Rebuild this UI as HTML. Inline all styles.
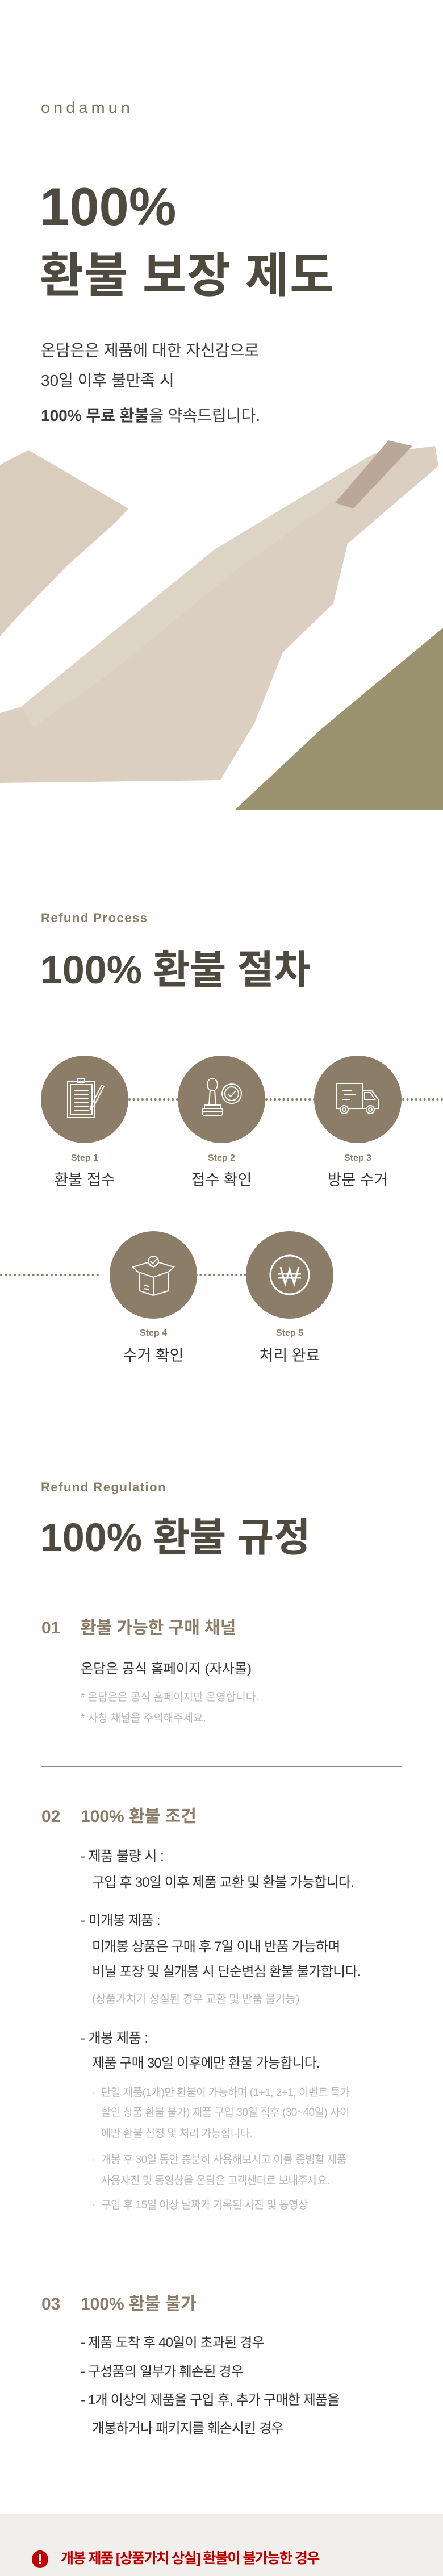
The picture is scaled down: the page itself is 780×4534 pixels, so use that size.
<!DOCTYPE html>
<html><head><meta charset="utf-8"><style>
*{margin:0;padding:0;box-sizing:border-box}
body{width:780px;height:4534px;position:relative;background:#fff;font-family:"Liberation Sans","Noto Sans CJK KR",sans-serif;overflow:hidden}
.t{position:absolute;white-space:nowrap;line-height:1}
.kr{font-family:"Liberation Sans","Noto Sans CJK KR",sans-serif}
.acc{color:#8b7d67}
.dk{color:#4d4a40}
.body{color:#333}
.gr{color:#b8b8b8}
.circ{position:absolute;width:154px;height:154px;border-radius:50%;background:#8b7d67}
.circ svg{position:absolute;left:37px;top:37px}
.dot{position:absolute;height:0;border-top:4px dotted #8b7d67}
.hr{position:absolute;left:72px;width:636px;height:1px;background:#8a8a8a}
.steplbl{position:absolute;width:200px;text-align:center;font-size:16px;font-weight:bold;color:#8b7d67;line-height:1}
.stepkr{position:absolute;width:200px;text-align:center;font-size:27px;color:#333;line-height:1}
</style></head><body>

<div class="t acc" style="left:72px;top:176px;font-size:29px;letter-spacing:6px;color:#7e735f">ondamun</div>
<div class="t dk" style="left:70px;top:317px;font-size:94px;font-weight:bold">100%</div>
<div class="t dk" style="left:70px;top:443px;font-size:84px;font-weight:bold;letter-spacing:1px">환불 보장 제도</div>
<div class="t body" style="left:72px;top:603px;font-size:28px;color:#3a3a3a">온담은은 제품에 대한 자신감으로</div>
<div class="t body" style="left:72px;top:656px;font-size:28px;color:#3a3a3a">30일 이후 불만족 시</div>
<div class="t body" style="left:72px;top:718px;font-size:28px;color:#3a3a3a"><b>100% 무료 환불</b>을 약속드립니다.</div>

<svg style="position:absolute;left:0;top:760px" width="780" height="680" viewBox="0 760 780 680">
<polygon points="0,818 50,792 226,895 204,919 119,995 35,1081 0,1120" fill="#d9cdbd"/>
<polygon points="0,1255 37,1244 378,967 657,799 766,785 772,820 612,957 587,1062 498,1148 448,1273 388,1373 0,1378" fill="#dacfc0"/>
<polygon points="37,1244 378,967 657,799 660,830 420,1000 200,1180 60,1280" fill="#e0d6c8" opacity="0.7"/>
<polygon points="590,885 684,775 726,785 622,895" fill="#b9a898"/>
<polygon points="413,1426 567,1282 780,1105 780,1426" fill="#9b9270"/>
</svg>

<div class="t acc" style="left:72px;top:1605px;font-size:22px;font-weight:bold;letter-spacing:1.5px">Refund Process</div>
<div class="t dk" style="left:71px;top:1672px;font-size:70px;font-weight:bold">100% 환불 절차</div>

<div class="dot" style="left:226px;width:88px;top:1933px"></div>
<div class="dot" style="left:467px;width:88px;top:1933px"></div>
<div class="dot" style="left:708px;width:72px;top:1933px"></div>
<div class="dot" style="left:0;width:174px;top:2242px"></div>
<div class="dot" style="left:328px;width:106px;top:2242px"></div>

<div class="circ" style="left:72px;top:1858px"><svg width="80" height="80" viewBox="0 0 80 80" fill="none" stroke="#fff" stroke-width="2"><rect x="10" y="8" width="48" height="64"/><rect x="15" y="14" width="38" height="53"/><rect x="28" y="3" width="12" height="8"/><line x1="21" y1="24" x2="47" y2="24"/><line x1="21" y1="31" x2="47" y2="31"/><line x1="21" y1="38" x2="47" y2="38"/><line x1="21" y1="45" x2="47" y2="45"/><line x1="21" y1="52" x2="47" y2="52"/><line x1="21" y1="59" x2="47" y2="59"/><path d="M70 15 L52 50 L50 58 L56 52 L74 17 Z"/></svg></div>
<div class="circ" style="left:313px;top:1858px"><svg width="80" height="80" viewBox="0 0 80 80" fill="none" stroke="#fff" stroke-width="2"><ellipse cx="24" cy="14" rx="9" ry="11"/><path d="M20 24 L18 50 M28 24 L30 50"/><rect x="10" y="50" width="28" height="6"/><rect x="6" y="56" width="36" height="12" rx="3"/><line x1="6" y1="62" x2="42" y2="62"/><circle cx="58" cy="30" r="17"/><circle cx="58" cy="30" r="12"/><path d="M51 30 L56 35 L65 25"/></svg></div>
<div class="circ" style="left:553px;top:1858px"><svg width="80" height="80" viewBox="0 0 80 80" fill="none" stroke="#fff" stroke-width="2"><rect x="2" y="12" width="46" height="44"/><path d="M48 24 H64 L76 40 V56 H48"/><path d="M52 28 H62 L70 40 H52 Z"/><line x1="12" y1="24" x2="30" y2="24"/><line x1="16" y1="32" x2="36" y2="32"/><line x1="12" y1="40" x2="26" y2="40"/><circle cx="16" cy="58" r="7" fill="#8b7d67"/><circle cx="16" cy="58" r="3"/><circle cx="62" cy="58" r="7" fill="#8b7d67"/><circle cx="62" cy="58" r="3"/></svg></div>
<div class="circ" style="left:193px;top:2167px"><svg width="80" height="80" viewBox="0 0 80 80" fill="none" stroke="#fff" stroke-width="2"><circle cx="40" cy="16" r="9"/><path d="M35 16 L39 20 L46 12"/><path d="M12 34 L40 44 L68 34"/><path d="M16 36 V68 L40 76 L66 68 V36"/><line x1="40" y1="44" x2="40" y2="76"/><path d="M12 34 L4 26 L30 18 L40 26 M68 34 L76 26 L50 18 L40 26"/><line x1="24" y1="58" x2="32" y2="60"/><line x1="24" y1="64" x2="32" y2="66"/></svg></div>
<div class="circ" style="left:433px;top:2167px"><svg width="80" height="80" viewBox="0 0 80 80" fill="none" stroke="#fff" stroke-width="3"><circle cx="40" cy="40" r="34"/><path d="M24 26 L32 56 L40 30 L48 56 L56 26"/><line x1="20" y1="38" x2="60" y2="38"/><line x1="20" y1="45" x2="60" y2="45"/></svg></div>

<div class="steplbl" style="left:49px;top:2031px">Step 1</div>
<div class="stepkr" style="left:49px;top:2064px">환불 접수</div>
<div class="steplbl" style="left:290px;top:2031px">Step 2</div>
<div class="stepkr" style="left:290px;top:2064px">접수 확인</div>
<div class="steplbl" style="left:530px;top:2031px">Step 3</div>
<div class="stepkr" style="left:530px;top:2064px">방문 수거</div>
<div class="steplbl" style="left:170px;top:2339px">Step 4</div>
<div class="stepkr" style="left:170px;top:2373px">수거 확인</div>
<div class="steplbl" style="left:410px;top:2339px">Step 5</div>
<div class="stepkr" style="left:410px;top:2373px">처리 완료</div>

<div class="t acc" style="left:72px;top:2607px;font-size:22px;font-weight:bold;letter-spacing:1.5px">Refund Regulation</div>
<div class="t dk" style="left:71px;top:2671px;font-size:70px;font-weight:bold">100% 환불 규정</div>

<div class="t acc" style="left:73px;top:2851px;font-size:30px;font-weight:bold">01</div>
<div class="t acc" style="left:142px;top:2851px;font-size:30px;font-weight:bold">환불 가능한 구매 채널</div>
<div class="t body" style="left:142px;top:2926px;font-size:24px">온담은 공식 홈페이지 (자사몰)</div>
<div class="t gr" style="left:142px;top:2978px;font-size:19px">* 온담은은 공식 홈페이지만 운영합니다.</div>
<div class="t gr" style="left:142px;top:3015px;font-size:19px">* 사칭 채널을 주의해주세요.</div>
<div class="hr" style="top:3109px"></div>

<div class="t acc" style="left:73px;top:3183px;font-size:30px;font-weight:bold">02</div>
<div class="t acc" style="left:142px;top:3183px;font-size:30px;font-weight:bold">100% 환불 조건</div>
<div class="t body" style="left:142px;top:3256px;font-size:24px;letter-spacing:-0.5px">- 제품 불량 시 :</div>
<div class="t body" style="left:162px;top:3302px;font-size:24px;letter-spacing:-0.8px">구입 후 30일 이후 제품 교환 및 환불 가능합니다.</div>
<div class="t body" style="left:142px;top:3369px;font-size:24px;letter-spacing:-0.5px">- 미개봉 제품 :</div>
<div class="t body" style="left:162px;top:3415px;font-size:24px;letter-spacing:-0.8px">미개봉 상품은 구매 후 7일 이내 반품 가능하며</div>
<div class="t body" style="left:162px;top:3459px;font-size:24px;letter-spacing:-0.8px">비닐 포장 및 실개봉 시 단순변심 환불 불가합니다.</div>
<div class="t gr" style="left:162px;top:3509px;font-size:20px;letter-spacing:-0.5px">(상품가치가 상실된 경우 교환 및 반품 불가능)</div>
<div class="t body" style="left:142px;top:3576px;font-size:24px;letter-spacing:-0.5px">- 개봉 제품 :</div>
<div class="t body" style="left:162px;top:3620px;font-size:24px;letter-spacing:-0.8px">제품 구매 30일 이후에만 환불 가능합니다.</div>
<div class="t gr" style="left:162px;top:3674px;font-size:19px">·</div>
<div class="t gr" style="left:178px;top:3674px;font-size:19px;letter-spacing:-0.5px">단일 제품(1개)만 환불이 가능하며 (1+1, 2+1, 이벤트 특가</div>
<div class="t gr" style="left:178px;top:3709px;font-size:19px;letter-spacing:-0.5px">할인 상품 환불 불가) 제품 구입 30일 직후 (30~40일) 사이</div>
<div class="t gr" style="left:178px;top:3746px;font-size:19px;letter-spacing:-0.5px">에만 환불 신청 및 처리 가능합니다.</div>
<div class="t gr" style="left:162px;top:3792px;font-size:19px">·</div>
<div class="t gr" style="left:178px;top:3792px;font-size:19px;letter-spacing:-0.5px">개봉 후 30일 동안 충분히 사용해보시고 이를 증빙할 제품</div>
<div class="t gr" style="left:178px;top:3829px;font-size:19px;letter-spacing:-0.5px">사용사진 및 동영상을 온담은 고객센터로 보내주세요.</div>
<div class="t gr" style="left:162px;top:3872px;font-size:19px">·</div>
<div class="t gr" style="left:178px;top:3872px;font-size:19px;letter-spacing:-0.5px">구입 후 15일 이상 날짜가 기록된 사진 및 동영상</div>
<div class="hr" style="top:3965px"></div>

<div class="t acc" style="left:73px;top:4041px;font-size:30px;font-weight:bold">03</div>
<div class="t acc" style="left:142px;top:4041px;font-size:30px;font-weight:bold">100% 환불 불가</div>
<div class="t body" style="left:142px;top:4112px;font-size:24px;letter-spacing:-0.8px">- 제품 도착 후 40일이 초과된 경우</div>
<div class="t body" style="left:142px;top:4163px;font-size:24px;letter-spacing:-0.8px">- 구성품의 일부가 훼손된 경우</div>
<div class="t body" style="left:142px;top:4213px;font-size:24px;letter-spacing:-0.8px">- 1개 이상의 제품을 구입 후, 추가 구매한 제품을</div>
<div class="t body" style="left:162px;top:4263px;font-size:24px;letter-spacing:-0.8px">개봉하거나 패키지를 훼손시킨 경우</div>

<div style="position:absolute;left:0;top:4425px;width:780px;height:109px;background:#f1efec"></div>
<div style="position:absolute;left:56px;top:4489px;width:29px;height:31px;border-radius:50%;background:#c00000;color:#fff;font-weight:bold;font-size:24px;line-height:31px;text-align:center">!</div>
<div class="t" style="left:107px;top:4491px;font-size:25px;font-weight:bold;color:#c00000;letter-spacing:-1.5px">개봉 제품 [상품가치 상실] 환불이 불가능한 경우</div>
</body></html>
